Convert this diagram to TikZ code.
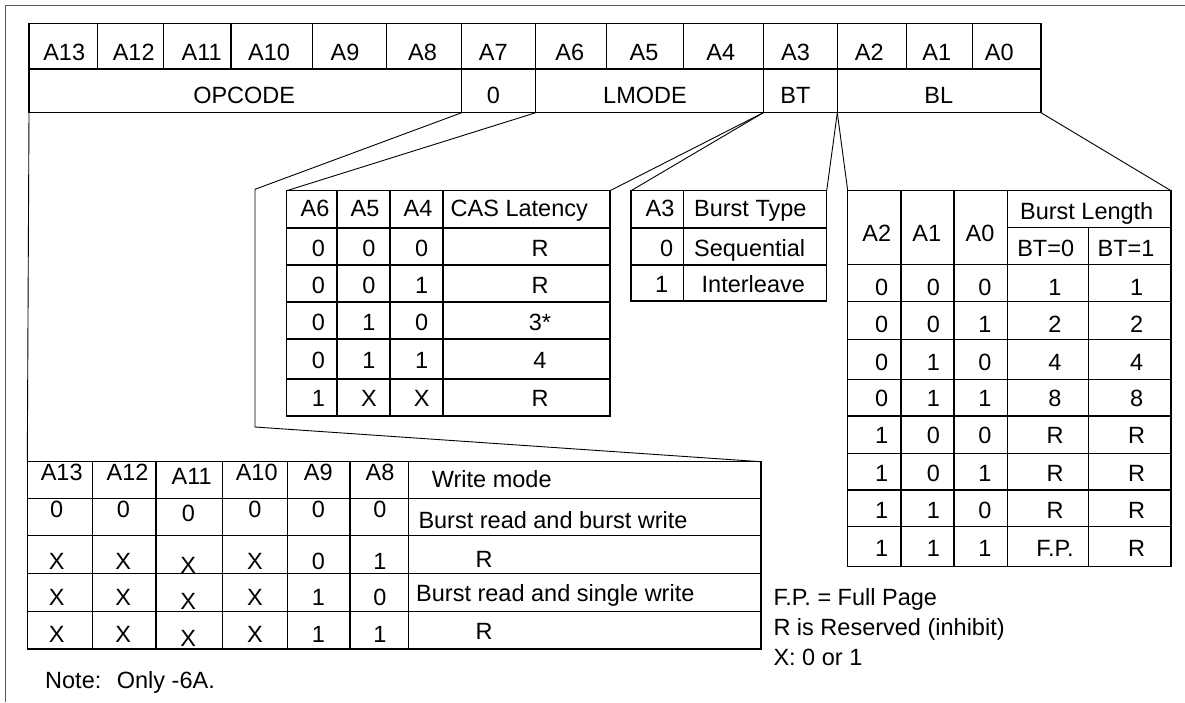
\documentclass[tikz,border=0pt]{standalone}
\usepackage{fontspec}
\setmainfont{Liberation Sans}
\begin{document}
\begin{tikzpicture}[x=1pt,y=-1pt,
  tbl/.style={line width=1.2pt},
  conn/.style={line width=0.9pt},
  frameline/.style={line width=1.2pt,draw=black!65},
  txt/.style={anchor=base,inner sep=0pt,font=\fontsize{23.5}{28}\selectfont},
  txtw/.style={txt,anchor=base west}]
\useasboundingbox (0,0) rectangle (1185,702);
% outer frame (top and left)
\draw[frameline] (5.7,702) -- (5.7,5.7) -- (1185,5.7);

% ---------------- register ----------------
\draw[tbl] (29,23.3) rectangle (1041,112.7);
\draw[tbl] (29,69) -- (1041,69);
\foreach \x in {97.3,163.3,231,312.3,386.7,606.7,683.3,906.7,972.3}
  \draw[tbl] (\x,23.3) -- (\x,69);
\foreach \x in {461.7,535.7,763.3,837.3}
  \draw[tbl] (\x,23.3) -- (\x,112.7);
\foreach \t/\x [count=\i] in {A13/64.2,A12/133.7,A11/201.7,A10/269,A9/345,A8/422.5,A7/493.2,A6/569.8,A5/644,A4/720.8,A3/795.5,A2/869.2,A1/936.7,A0/999.2}
  \node[txt] (reg-\i) at (\x,60) {\t};
\foreach \t/\x [count=\i] in {OPCODE/244.2,0/493.3,LMODE/645,BT/795.5,BL/938.7}
  \node[txt] (fld-\i) at (\x,103.3) {\t};
\coordinate (regBL) at (29,112.7);
\coordinate (c87) at (461.7,112.7);
\coordinate (c76) at (535.7,112.7);
\coordinate (c43) at (763.3,112.7);
\coordinate (c32) at (837.3,112.7);
\coordinate (regBR) at (1041,112.7);

% ---------------- CAS latency table ----------------
\draw[tbl] (286.7,190.7) rectangle (610,416);
\foreach \x in {337,390,443} \draw[tbl] (\x,190.7) -- (\x,416);
\foreach \y in {228,265,302,339,379} \draw[tbl] (286.7,\y) -- (610,\y);
\coordinate (casTL) at (286.7,190.7);
\coordinate (casTR) at (610,190.7);
\foreach \t/\x [count=\i] in {A6/315,A5/365,A4/418,CAS Latency/519.3}
  \node[txt] (cash-\i) at (\x,216.7) {\t};
\foreach \a/\b/\c/\d/\y [count=\i] in {0/0/0/R/256,0/0/1/R/293.3,0/1/0/3*/330.7,0/1/1/4/368.3,1/X/X/R/406.7}{
  \node[txt] (cas-\i-1) at (318.3,\y) {\a};
  \node[txt] (cas-\i-2) at (369,\y) {\b};
  \node[txt] (cas-\i-3) at (421.7,\y) {\c};
  \node[txt] (cas-\i-4) at (540,\y) {\d};
}

% ---------------- burst type table ----------------
\draw[tbl] (631,190.7) rectangle (826.7,301);
\draw[tbl] (683.3,190.7) -- (683.3,301);
\foreach \y in {228,265} \draw[tbl] (631,\y) -- (826.7,\y);
\coordinate (btTL) at (631,190.7);
\coordinate (btTR) at (826.7,190.7);
\node[txt] (bt-h1) at (660,216.7) {A3};
\node[txt] (bt-h2) at (750.3,216.7) {Burst Type};
\node[txt] (bt-11) at (666.7,256) {0};
\node[txt] (bt-12) at (749.7,256) {Sequential};
\node[txt] (bt-21) at (661.7,292.3) {1};
\node[txt] (bt-22) at (753.3,292.3) {Interleave};

% ---------------- burst length table ----------------
\draw[tbl] (847.7,190.7) rectangle (1171,566.7);
\foreach \x in {901,954,1007.3} \draw[tbl] (\x,190.7) -- (\x,566.7);
\draw[tbl] (1088.7,227.7) -- (1088.7,566.7);
\draw[tbl] (1007.3,227.7) -- (1171,227.7);
\foreach \y in {264.3,301.7,339.3,379.3,416,453.3,490,526.7} \draw[tbl] (847.7,\y) -- (1171,\y);
\coordinate (blTL) at (847.7,190.7);
\coordinate (blTR) at (1171,190.7);
\node[txt] (bl-h1) at (876.7,241) {A2};
\node[txt] (bl-h2) at (926.7,241) {A1};
\node[txt] (bl-h3) at (980,241) {A0};
\node[txt] (bl-h4) at (1086.7,219.3) {Burst Length};
\node[txt] (bl-h5) at (1045.7,256) {BT=0};
\node[txt] (bl-h6) at (1126,256) {BT=1};
\foreach \a/\b/\c/\d/\e/\y [count=\i] in {0/0/0/1/1/295,0/0/1/2/2/332.7,0/1/0/4/4/370,0/1/1/8/8/406.7,1/0/0/R/R/443.3,1/0/1/R/R/481,1/1/0/R/R/518.3,1/1/1/F.P./R/556}{
  \node[txt] (bl-\i-1) at (881.7,\y) {\a};
  \node[txt] (bl-\i-2) at (933.3,\y) {\b};
  \node[txt] (bl-\i-3) at (985,\y) {\c};
  \node[txt] (bl-\i-4) at (1055,\y) {\d};
  \node[txt] (bl-\i-5) at (1136.7,\y) {\e};
}

% ---------------- write mode table ----------------
\draw[tbl] (27.3,461.7) rectangle (761,649);
\foreach \x in {92.7,156,222.7,287.3,350,408.3} \draw[tbl] (\x,461.7) -- (\x,649);
\foreach \y in {498.3,535.7,573.3,611.7} \draw[tbl] (27.3,\y) -- (761,\y);
\coordinate (wmTL) at (27.3,461.7);
\coordinate (wmTR) at (761,461.7);
\foreach \t/\x/\dy [count=\i] in {A13/61.7/0,A12/127.5/0,A11/191.7/4,A10/256.7/0,A9/318.3/0,A8/380/0}
  \node[txt] (wmh-\i) at (\x,480+\dy) {\t};
\node[txtw] (wmh-7) at (431.7,487.9) {Write mode};
\foreach \a/\b/\c/\d/\e/\f/\y [count=\i] in {0/0/0/0/0/0/517.6,X/X/X/X/0/1/569.2,X/X/X/X/1/0/605.7,X/X/X/X/1/1/642.6}{
  \node[txt] (wm-\i-1) at (56.7,\y) {\a};
  \node[txt] (wm-\i-2) at (123.3,\y) {\b};
  \node[txt] (wm-\i-3) at (188.3,\y+4) {\c};
  \node[txt] (wm-\i-4) at (255,\y) {\d};
  \node[txt] (wm-\i-5) at (318.3,\y) {\e};
  \node[txt] (wm-\i-6) at (380,\y) {\f};
}
\node[txtw] (wm-1-7) at (418.3,528) {Burst read and burst write};
\node[txt] (wm-2-7) at (484,567) {R};
\node[txtw] (wm-3-7) at (416,601.7) {Burst read and single write};
\node[txt] (wm-4-7) at (484,639.2) {R};

% ---------------- connectors ----------------
\coordinate (brk1) at (255,189.3);
\coordinate (brk2) at (255,427);
\draw[conn] (regBL) -- (wmTL);
\draw[conn] (c87) -- (brk1) -- (brk2) -- (wmTR);
\draw[conn] (c76) -- (casTL);
\draw[conn] (c43) -- (casTR);
\draw[conn] (c43) -- (btTL);
\draw[conn] (c32) -- (btTR);
\draw[conn] (c32) -- (blTL);
\draw[conn] (regBR) -- (blTR);

% ---------------- notes ----------------
\node[txtw] (n1) at (773.3,605) {F.P. = Full Page};
\node[txtw] (n2) at (773.3,635) {R is Reserved (inhibit)};
\node[txtw] (n3) at (773.3,665) {X: 0 or 1};
\node[txtw] (n4) at (45,688.3) {Note:\hspace{15.5pt}Only -6A.};
\end{tikzpicture}
\end{document}
